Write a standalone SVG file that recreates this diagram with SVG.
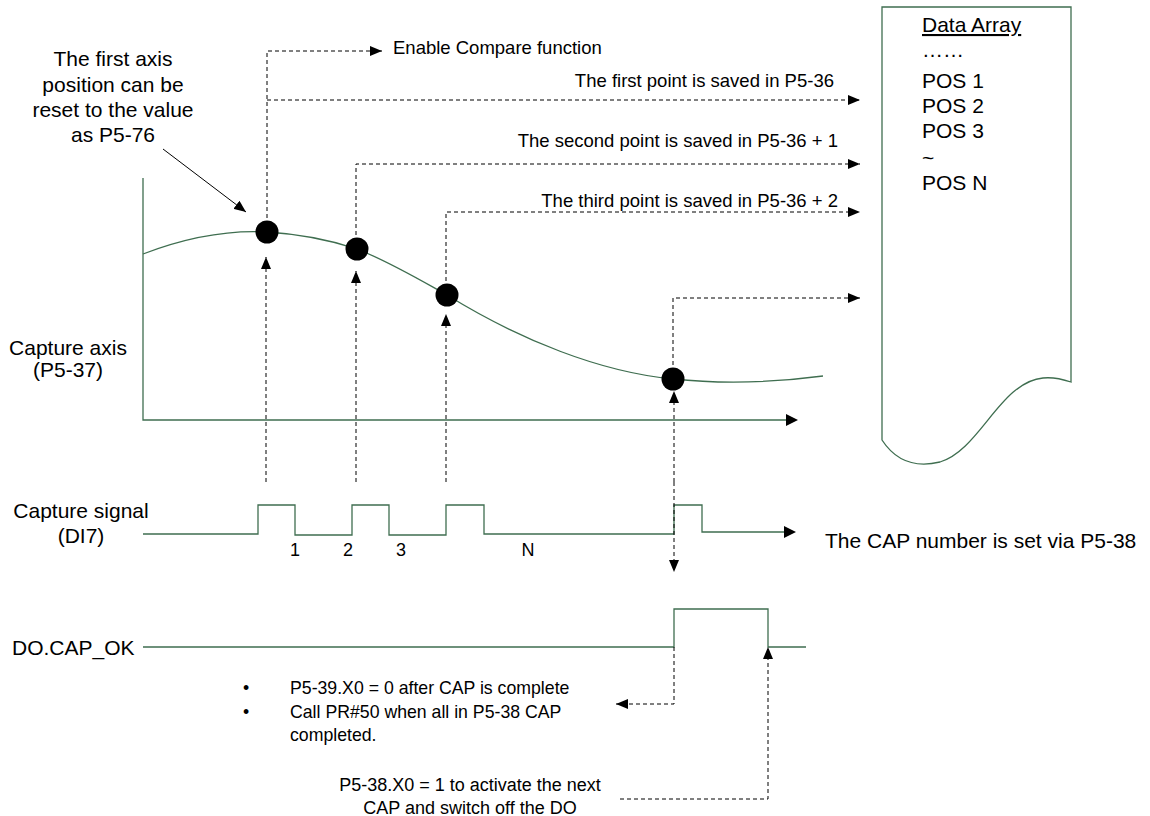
<svg xmlns="http://www.w3.org/2000/svg" width="1150" height="816" viewBox="0 0 1150 816">
<style>
text { font-family: "Liberation Sans", Arial, sans-serif; fill: #000; }
.big { font-size: 21px; }
.lbl { font-size: 18.5px; }
.sm { font-size: 18px; }
.note { font-size: 17.7px; }
.mid { text-anchor: middle; }
.end { text-anchor: end; }
.g { fill: none; stroke: #3f6e50; stroke-width: 1.3; }
.d { fill: none; stroke: #000; stroke-width: 1; stroke-dasharray: 4 3; }
.s { fill: none; stroke: #000; stroke-width: 1; }
.dot { fill: #000; }
</style>
<defs>
<marker id="ah" viewBox="0 0 12 10" refX="12" refY="5" markerWidth="12" markerHeight="10" markerUnits="userSpaceOnUse" orient="auto">
<path d="M0,0 L12,5 L0,10 Z" fill="#000"/>
</marker>
</defs>
<rect width="1150" height="816" fill="#fff"/>

<g id="first-axis-note">
<text class="big mid" x="113" y="66">The first axis</text>
<text class="big mid" x="113" y="92">position can be</text>
<text class="big mid" x="113" y="117">reset to the value</text>
<text class="big mid" x="113" y="142">as P5-76</text>
</g>

<g id="data-array">
<path class="g" d="M882,7 H1071 V382 C1062,379 1052,377 1043,378 C1000,382 980,450 940,462 C915,468 895,460 882,440 Z" fill="#fff"/>
<text class="big" x="922" y="32" text-decoration="underline">Data Array</text>
<text class="big" x="922" y="57">……</text>
<text class="big" x="922" y="88">POS 1</text>
<text class="big" x="922" y="113">POS 2</text>
<text class="big" x="922" y="138">POS 3</text>
<text class="big" x="922" y="165">~</text>
<text class="big" x="922" y="190">POS N</text>
</g>

<g id="capture-axis">
<path class="g" d="M143,178 V420 H786"/>
<path d="M786,414 L798,420 L786,426 Z" fill="#000"/>
<path class="g" d="M143,254 C190,236 230,230 267,232 C300,234 330,240 357,249 C390,262 420,280 447,295 C520,340 600,372 673,379 C720,384 770,383 823,376"/>
<text class="big mid" x="68" y="355">Capture axis</text>
<text class="big mid" x="68" y="377">(P5-37)</text>
</g>

<g id="capture-signal">
<path class="g" d="M143,534 H258 V505 H295 V535 H352 V505 H389 V535 H446 V505 H484 V534 H674 V505 H702 V532 H784"/>
<path d="M784,526 L796,532 L784,538 Z" fill="#000"/>
<text class="big mid" x="81" y="518">Capture signal</text>
<text class="big mid" x="81" y="543">(DI7)</text>
<text class="sm mid" x="295" y="556">1</text>
<text class="sm mid" x="348" y="556">2</text>
<text class="sm mid" x="401" y="556">3</text>
<text class="sm mid" x="528" y="556">N</text>
<text class="big" x="825" y="548">The CAP number is set via P5-38</text>
</g>

<g id="do-cap-ok">
<path class="g" d="M143,647 H674 V609 H768 V647 H806"/>
<text class="big" x="12" y="655">DO.CAP_OK</text>
</g>

<g id="notes">
<text class="note" x="243" y="694">•</text>
<text class="note" x="290" y="694">P5-39.X0 = 0 after CAP is complete</text>
<text class="note" x="243" y="718">•</text>
<text class="note" x="290" y="718">Call PR#50 when all in P5-38 CAP</text>
<text class="note" x="290" y="741">completed.</text>
<text class="sm mid" x="470" y="791">P5-38.X0 = 1 to activate the next</text>
<text class="sm mid" x="470" y="814">CAP and switch off the DO</text>
</g>

<g id="connectors">
<path class="s" d="M163,149 L246,212" marker-end="url(#ah)"/>
<path class="d" d="M267,232 V51 H382" marker-end="url(#ah)"/>
<path class="d" d="M267,100 H860" marker-end="url(#ah)"/>
<path class="d" d="M356,249 V164 H860" marker-end="url(#ah)"/>
<path class="d" d="M446,295 V212 H860" marker-end="url(#ah)"/>
<path class="d" d="M673,379 V298 H860" marker-end="url(#ah)"/>
<path class="d" d="M266,482 V257" marker-end="url(#ah)"/>
<path class="d" d="M356,482 V271" marker-end="url(#ah)"/>
<path class="d" d="M446,482 V314" marker-end="url(#ah)"/>
<path class="d" d="M674,482 V391" marker-end="url(#ah)"/>
<path class="d" d="M674,482 V572" marker-end="url(#ah)"/>
<path class="d" d="M674,647 V704 H616" marker-end="url(#ah)"/>
<path class="d" d="M620,799 H768 V647" marker-end="url(#ah)"/>
</g>

<g id="capture-points">
<circle class="dot" cx="267" cy="232" r="11.5"/>
<circle class="dot" cx="357" cy="249" r="11.5"/>
<circle class="dot" cx="447" cy="295" r="11.5"/>
<circle class="dot" cx="673" cy="379" r="11.5"/>
</g>

<g id="dashed-labels">
<text class="lbl" x="393" y="54">Enable Compare function</text>
<text class="lbl end" x="834" y="87">The first point is saved in P5-36</text>
<text class="lbl end" x="838" y="147">The second point is saved in P5-36 + 1</text>
<text class="lbl end" x="838" y="207">The third point is saved in P5-36 + 2</text>
</g>
</svg>
